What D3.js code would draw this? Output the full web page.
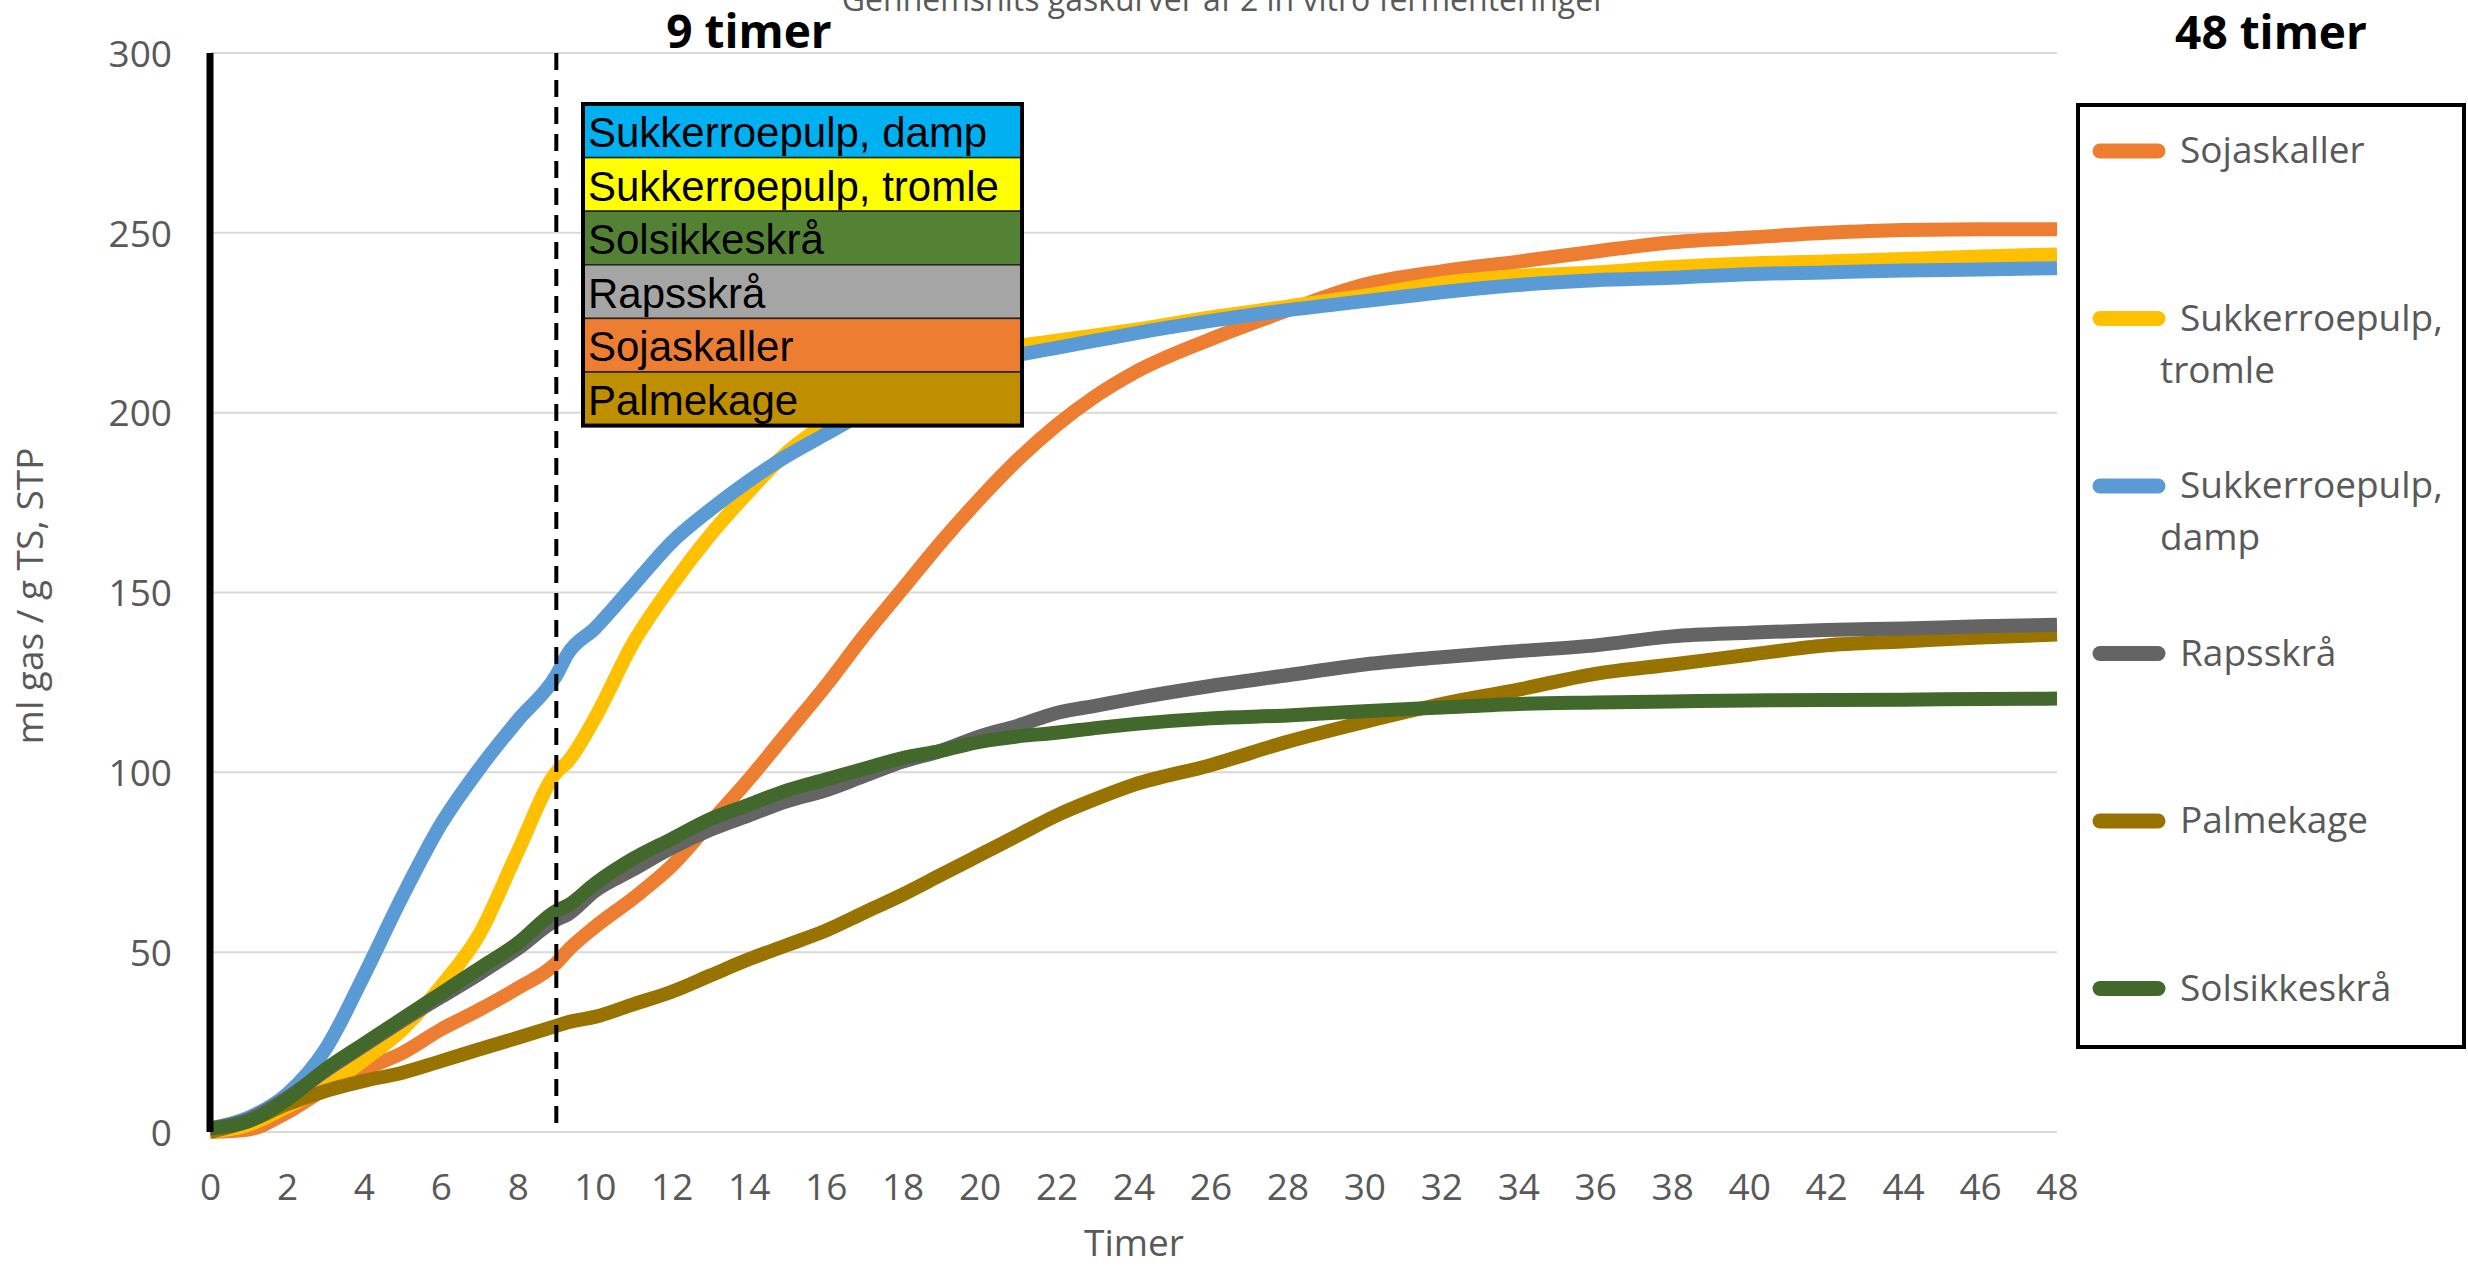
<!DOCTYPE html>
<html>
<head>
<meta charset="utf-8">
<script src="https://cdn.jsdelivr.net/npm/d3@7"></script>
<style>
    body { margin: 0; background: #fff; }
    text { font-family: "Open Sans", "Noto Sans", sans-serif; }
    text.box-label { font-family: "Liberation Sans", Arial, sans-serif; }
</style>
</head>
<body>
<svg id="chart" width="2468" height="1267"></svg>
<script>
// données (timer -> ml gas / g TS)
const timer = [0, 1, 2, 3, 4, 5, 6, 7, 8, 9, 9.3, 10, 11, 12, 13, 14, 15, 16, 17, 18, 19, 20, 21, 22, 23, 24, 26, 28, 30, 32, 34, 36, 38, 40, 42, 44, 46, 48];

const sojaskaller = [0, 0.7, 5.4, 12, 17.4, 22, 28.5, 34, 40, 47, 50.5, 57, 65, 74, 86, 98, 111, 124, 138, 151, 164, 176, 187, 196.5, 204.5, 211, 220.4, 228.4, 235.6, 239.3, 242, 244.8, 247.4, 248.7, 250, 250.8, 251, 251];
const tromle = [0, 2, 7, 12.5, 20, 28.5, 40.5, 55, 78, 100, 103, 115, 136, 152, 166, 178, 189, 197, 204, 209, 213, 216, 218.5, 220, 221.5, 223, 226.5, 229.5, 232.5, 236, 238, 239, 240.5, 241.5, 242, 242.7, 243.4, 244];
const damp = [1, 4, 10.5, 23, 43.5, 65.5, 85.5, 101, 114.5, 127, 133, 140, 152, 164, 173, 181, 188, 194, 200, 205, 209, 213, 216, 218, 220, 222, 225.5, 228.5, 231, 233.5, 235.5, 236.8, 237.5, 238.5, 239, 239.5, 239.8, 240.2];
const palmekage = [0, 3, 7.7, 11.4, 14.2, 16.5, 19.7, 23, 26.2, 29.5, 30.5, 32, 35.5, 39, 43.5, 48, 52, 56, 61, 66, 71.5, 77, 82.5, 88, 92.5, 96.5, 102, 108.5, 114, 119, 123, 127.4, 130, 132.7, 135.3, 136.4, 137.5, 138.3];
const rapsskraa = [1, 3.5, 9.5, 17, 24, 31, 37.5, 44, 51, 59, 60.5, 67, 73, 79, 84, 88, 92, 95, 99, 103, 106, 110, 113, 116.5, 118.5, 120.5, 124, 127, 130, 132, 133.7, 135.3, 137.8, 138.8, 139.6, 140, 140.6, 141];
const solsikkeskraa = [1, 3, 9, 17.4, 24.5, 31.5, 38.5, 45.5, 52.5, 61.5, 63, 69, 76, 81.5, 87, 91, 95, 98, 101, 104, 106, 108.5, 110, 111, 112.3, 113.4, 115, 115.8, 117, 118, 119, 119.4, 119.7, 120, 120.1, 120.2, 120.4, 120.5];

const xTicks = [0, 2, 4, 6, 8, 10, 12, 14, 16, 18, 20, 22, 24, 26, 28, 30, 32, 34, 36, 38, 40, 42, 44, 46, 48];
const yTicks = [0, 50, 100, 150, 200, 250, 300];

// noms pour la légende de droite (ordre du graphique)
const legendNames = [["Sojaskaller"], ["Sukkerroepulp,", "tromle"], ["Sukkerroepulp,", "damp"], ["Rapsskrå"], ["Palmekage"], ["Solsikkeskrå"]];

// tableau coloré dans le graphique
const boxLabels = ["Sukkerroepulp, damp", "Sukkerroepulp, tromle", "Solsikkeskrå", "Rapsskrå", "Sojaskaller", "Palmekage"];
const boxColors = ["#00b0f0", "#ffff00", "#548235", "#a5a5a5", "#ed7d31", "#bf8f00"];

// séries (ordre de dessin : du dessous vers le dessus)
const series = [
    { key: "soja", values: sojaskaller, color: "#ed7d31" },
    { key: "tromle", values: tromle, color: "#ffc000" },
    { key: "damp", values: damp, color: "#5b9bd5" },
    { key: "palme", values: palmekage, color: "#997300" },
    { key: "raps", values: rapsskraa, color: "#646464" },
    { key: "sol", values: solsikkeskraa, color: "#43682b" }
];
const legendColors = ["#ed7d31", "#ffc000", "#5b9bd5", "#646464", "#997300", "#43682b"];

const svg = d3.select("#chart");

// échelles
const xScale = d3.scaleLinear()
    .domain([0, 48])
    .range([210, 2057]);

const yScale = d3.scaleLinear()
    .domain([0, 300])
    .range([1132, 53]);

// titre (coupé en haut)
svg.append("text")
    .attr("x", 1224)
    .attr("y", 11)
    .attr("text-anchor", "middle")
    .attr("font-size", 32)
    .attr("fill", "#595959")
    .text("Gennemsnits gaskurver af 2 in vitro fermenteringer");

// lignes de la grille
svg.append("g")
    .selectAll("line")
    .data(yTicks)
    .enter()
    .append("line")
    .attr("x1", xScale(0))
    .attr("x2", xScale(48))
    .attr("y1", d => yScale(d))
    .attr("y2", d => yScale(d))
    .attr("stroke", "#d9d9d9")
    .attr("stroke-width", 2);

// axe y : seulement les étiquettes
const yAxis = d3.axisLeft(yScale)
    .tickValues(yTicks)
    .tickSize(0)
    .tickPadding(0);

svg.append("g")
    .attr("transform", "translate(172, 0)")
    .call(yAxis)
    .call(g => g.select(".domain").remove())
    .selectAll("text")
    .attr("font-size", 37)
    .attr("fill", "#595959")
    .attr("dy", "0.36em");

// axe x
const xAxis = d3.axisBottom(xScale)
    .tickValues(xTicks)
    .tickSize(0)
    .tickPadding(0);

svg.append("g")
    .attr("transform", "translate(0, 1200)")
    .call(xAxis)
    .call(g => g.select(".domain").remove())
    .selectAll("text")
    .attr("font-size", 37)
    .attr("fill", "#595959")
    .attr("dy", 0);

// titres des axes
svg.append("text")
    .attr("x", 1134)
    .attr("y", 1256)
    .attr("text-anchor", "middle")
    .attr("font-size", 37)
    .attr("fill", "#595959")
    .text("Timer");

svg.append("text")
    .attr("transform", "translate(43, 596) rotate(-90)")
    .attr("text-anchor", "middle")
    .attr("font-size", 37)
    .attr("fill", "#595959")
    .text("ml gas / g TS, STP");

// courbes
const line = d3.line()
    .x((d, i) => xScale(timer[i]))
    .y(d => yScale(d))
    .curve(d3.curveMonotoneX);

svg.append("g")
    .selectAll("path")
    .data(series)
    .enter()
    .append("path")
    .attr("d", d => line(d.values))
    .attr("fill", "none")
    .attr("stroke", d => d.color)
    .attr("stroke-width", 14)
    .attr("stroke-linejoin", "round");

// axe vertical noir
svg.append("line")
    .attr("x1", xScale(0))
    .attr("x2", xScale(0))
    .attr("y1", yScale(300))
    .attr("y2", yScale(0))
    .attr("stroke", "#000")
    .attr("stroke-width", 7);

// ligne pointillée à 9 timer
svg.append("line")
    .attr("x1", xScale(9))
    .attr("x2", xScale(9))
    .attr("y1", yScale(300))
    .attr("y2", yScale(0))
    .attr("stroke", "#000")
    .attr("stroke-width", 4)
    .attr("stroke-dasharray", "17 10");

svg.append("text")
    .attr("x", 749)
    .attr("y", 48)
    .attr("text-anchor", "middle")
    .attr("font-size", 46)
    .attr("font-weight", "bold")
    .attr("fill", "#000")
    .text("9 timer");

svg.append("text")
    .attr("x", 2271)
    .attr("y", 49)
    .attr("text-anchor", "middle")
    .attr("font-size", 46)
    .attr("font-weight", "bold")
    .attr("fill", "#000")
    .text("48 timer");

// tableau coloré
const boxX = 583, boxY = 104, boxW = 439, rowH = 53.6;

const rows = svg.append("g")
    .selectAll("g")
    .data(boxLabels)
    .enter()
    .append("g")
    .attr("transform", (d, i) => `translate(${boxX}, ${boxY + i * rowH})`);

rows.append("rect")
    .attr("width", boxW)
    .attr("height", rowH)
    .attr("fill", (d, i) => boxColors[i])
    .attr("stroke", "#222")
    .attr("stroke-width", 1.5);

rows.append("text")
    .attr("class", "box-label")
    .attr("x", 5)
    .attr("y", 43)
    .attr("font-size", 42)
    .attr("fill", "#000")
    .text(d => d);

svg.append("rect")
    .attr("x", boxX)
    .attr("y", boxY)
    .attr("width", boxW)
    .attr("height", rowH * boxLabels.length)
    .attr("fill", "none")
    .attr("stroke", "#000")
    .attr("stroke-width", 4);

// légende de droite
svg.append("rect")
    .attr("x", 2078)
    .attr("y", 105)
    .attr("width", 386)
    .attr("height", 942)
    .attr("fill", "none")
    .attr("stroke", "#000")
    .attr("stroke-width", 4);

const items = svg.append("g")
    .selectAll("g")
    .data(legendNames)
    .enter()
    .append("g")
    .attr("transform", (d, i) => `translate(0, ${151 + i * 167.5})`);

items.append("line")
    .attr("x1", 2100)
    .attr("x2", 2158)
    .attr("stroke", (d, i) => legendColors[i])
    .attr("stroke-width", 15)
    .attr("stroke-linecap", "round");

items.append("text")
    .attr("font-size", 37)
    .attr("fill", "#595959")
    .selectAll("tspan")
    .data(d => d)
    .enter()
    .append("tspan")
    .attr("x", (d, i) => i === 0 ? 2180 : 2160)
    .attr("y", (d, i) => 12 + i * 52)
    .text(d => d);
</script>
</body>
</html>
